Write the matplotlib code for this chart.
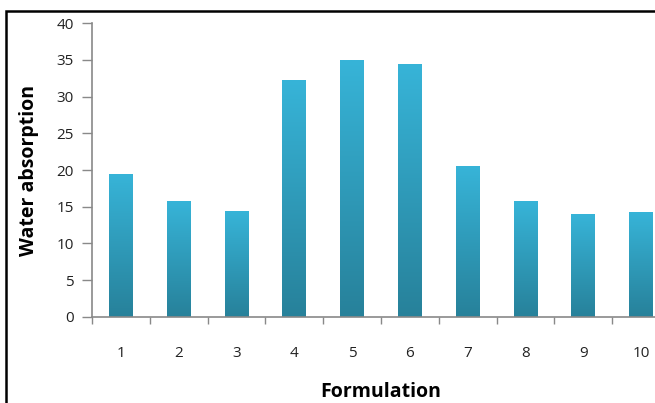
import numpy as np
import matplotlib
matplotlib.use("Agg")
import matplotlib.pyplot as plt
from matplotlib.colors import LinearSegmentedColormap
from matplotlib.patches import Rectangle

plt.rcParams['font.family'] = ['Open Sans', 'DejaVu Sans']

formulations = ['1', '2', '3', '4', '5', '6', '7', '8', '9', '10']
water_absorption = [19.4, 15.8, 14.4, 32.2, 35.0, 34.4, 20.5, 15.8, 14.0, 14.2]
yticks = [0, 5, 10, 15, 20, 25, 30, 35, 40]

fig = plt.figure(figsize=(6.55, 4.03), dpi=100)
ax = fig.add_axes([0.1405, 0.2141, 0.8824, 0.7281])

x = np.arange(len(formulations))
bars = ax.bar(x, water_absorption, width=0.41, color='none', zorder=2)

# vertical gradient fill for each bar
cmap = LinearSegmentedColormap.from_list('bar', ['#27819a', '#37b4d8'])
grad = np.linspace(0, 1, 256).reshape(-1, 1)
for b in bars:
    x0, y0 = b.get_x(), b.get_y()
    w, h = b.get_width(), b.get_height()
    ax.imshow(grad, cmap=cmap, origin='lower', aspect='auto',
              extent=[x0, x0 + w, y0, y0 + h], zorder=2)

ax.set_xlim(-0.5, len(formulations) - 0.5)
ax.set_ylim(0, 40)
ax.set_yticks(yticks)

ax.set_xticks(x)
ax.set_xticklabels(formulations)
ax.set_xticks(np.arange(-0.5, len(formulations), 1), minor=True)
ax.tick_params(axis='x', which='major', length=0, pad=21, labelsize=11, colors='#222222')
ax.tick_params(axis='x', which='minor', length=5, width=1, color='#898989', direction='out')
ax.tick_params(axis='y', length=7, width=1, color='#898989', pad=6, labelsize=11, labelcolor='#222222')

for s in ['top', 'right']:
    ax.spines[s].set_visible(False)
for s in ['left', 'bottom']:
    ax.spines[s].set_color('#898989')
    ax.spines[s].set_linewidth(1.2)

ax.set_ylabel('Water absorption', fontsize=14, fontweight='bold', labelpad=13)
ax.set_xlabel('Formulation', fontsize=14, fontweight='bold', labelpad=15)

# outer frame of the original (cropped at right and bottom)
fig.patches.append(Rectangle((5.5 / 655, -0.1), 1.2, 1 - 11 / 403 + 0.1,
                             transform=fig.transFigure, fill=False,
                             edgecolor='black', linewidth=1.8))

fig.savefig('out.png', dpi=100)
